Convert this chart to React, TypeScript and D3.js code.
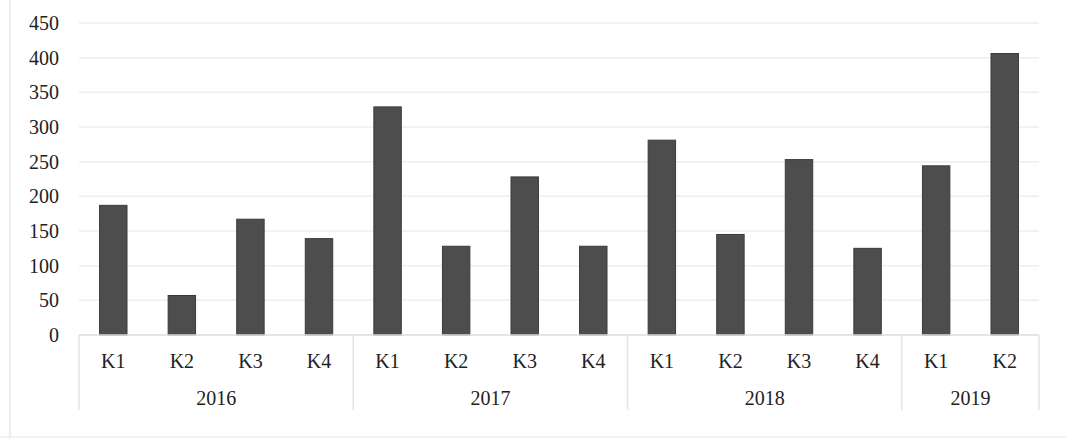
import React from "react";
import * as d3 from "d3";

const quarters = ["K1", "K2", "K3", "K4", "K1", "K2", "K3", "K4", "K1", "K2", "K3", "K4", "K1", "K2"];
const years = ["2016", "2017", "2018", "2019"];
const yearSpans = [4, 4, 4, 2];
const values = [187, 57, 167, 139, 329, 128, 228, 128, 281, 145, 253, 125, 244, 406];
const yTicks = [0, 50, 100, 150, 200, 250, 300, 350, 400, 450];

const W = 1066;
const H = 439;
const M = { left: 79, right: 27, top: 23, bottom: 104 };

export default function App() {
  const x = d3
    .scaleBand<number>()
    .domain(values.map((_, i) => i))
    .range([M.left, W - M.right])
    .paddingInner(0.6)
    .paddingOuter(0.3);
  const y = d3.scaleLinear().domain([0, 450]).range([H - M.bottom, M.top]);
  const step = x.step();
  const x0 = M.left;
  const base = y(0);
  const font = "'Liberation Serif', 'Times New Roman', serif";

  let acc = 0;
  const yearBlocks = years.map((yr, i) => {
    const start = acc;
    acc += yearSpans[i];
    return { yr, start, end: acc };
  });

  return (
    <svg
      width={W}
      height={H}
      style={{ position: "absolute", left: 0, top: 0, background: "#fff" }}
      fontFamily={font}
    >
      <rect x={0} y={0} width={W} height={H} fill="#fff" />
      <line x1={10} x2={10} y1={0} y2={H} stroke="#eeeeee" strokeWidth={2} />
      <line x1={0} x2={W} y1={437} y2={437} stroke="#eeeeee" strokeWidth={1.5} />
      {yTicks.map((t) => (
        <g key={t}>
          {t > 0 && (
            <line x1={x0} x2={W - M.right} y1={y(t)} y2={y(t)} stroke="#eeeeee" strokeWidth={1.5} />
          )}
          <text x={59} y={y(t)} dy="0.35em" textAnchor="end" fontSize={20} fill="#222">
            {t}
          </text>
        </g>
      ))}
      {values.map((v, i) => (
        <rect
          key={i}
          x={x(i)!}
          y={y(v)}
          width={x.bandwidth()}
          height={base - y(v)}
          fill="#4d4d4d"
          stroke="#3a3a3a"
          strokeWidth={1}
        />
      ))}
      <line x1={x0} x2={W - M.right} y1={base} y2={base} stroke="#dddddd" strokeWidth={1.5} />
      {quarters.map((q, i) => (
        <text
          key={i}
          x={x(i)! + x.bandwidth() / 2}
          y={361}
          dy="0.35em"
          textAnchor="middle"
          fontSize={20}
          fill="#222"
        >
          {q}
        </text>
      ))}
      {yearBlocks.map((b) => (
        <g key={b.yr}>
          <line
            x1={x0 + b.start * step}
            x2={x0 + b.start * step}
            y1={base}
            y2={410}
            stroke="#e4e4e4"
            strokeWidth={1.5}
          />
          <text
            x={x0 + ((b.start + b.end) / 2) * step}
            y={398}
            dy="0.35em"
            textAnchor="middle"
            fontSize={20}
            fill="#222"
          >
            {b.yr}
          </text>
        </g>
      ))}
      <line
        x1={x0 + acc * step}
        x2={x0 + acc * step}
        y1={base}
        y2={410}
        stroke="#e4e4e4"
        strokeWidth={1.5}
      />
    </svg>
  );
}
